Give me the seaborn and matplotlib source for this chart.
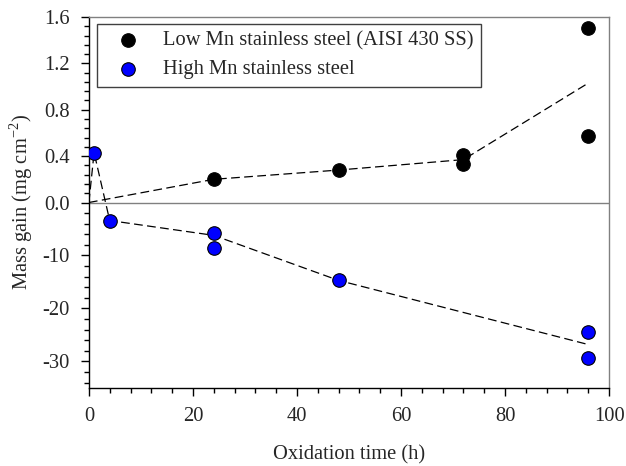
import numpy as np
import pandas as pd
import matplotlib
matplotlib.use("Agg")
import matplotlib.pyplot as plt
import seaborn as sns
from matplotlib.ticker import FixedLocator, FixedFormatter

# ---- data ----
low_x = [24, 48, 72, 72, 96, 96]
low_y = [0.20, 0.28, 0.41, 0.335, 1.505, 0.57]
high_x = [1, 4, 24, 24, 48, 96, 96]
high_y = [0.43, -3.4, -5.8, -8.5, -14.7, -24.4, -29.4]

low_fit_x = [0, 24, 48, 72, 96]
low_fit_y = [0.0, 0.20, 0.28, 0.37, 1.03]
high_fit_x = [0, 1, 4, 24, 48, 96]
high_fit_y = [0.0, 0.43, -3.4, -6.2, -14.7, -26.8]

ytick_vals = [1.6, 1.2, 0.8, 0.4, 0.0, -10, -20, -30]
ytick_labels = ["1.6", "1.2", "0.8", "0.4", "0.0", "-10", "-20", "-30"]
xtick_vals = [0, 20, 40, 60, 80, 100]

label_low = "Low Mn stainless steel (AISI 430 SS)"
label_high = "High Mn stainless steel"

sns.set_style("ticks")
plt.rcParams["font.family"] = ["Liberation Serif", "DejaVu Serif"]
plt.rcParams["mathtext.fontset"] = "custom"
plt.rcParams["mathtext.rm"] = "Liberation Serif"

FS = 14.8

fig = plt.figure(figsize=(6.26, 4.66), dpi=100)
ax = fig.add_axes([0.142, 0.1674, 0.831, 0.7961])

UP, LOW = 1.6, 35.0

def fwd(v):
    v = np.asarray(v, dtype=float)
    return np.where(v >= 0, v / UP, v / LOW)

def inv(v):
    v = np.asarray(v, dtype=float)
    return np.where(v >= 0, v * UP, v * LOW)

ax.axhline(0, color="#808080", lw=1.0, zorder=1)

sns.lineplot(x=low_fit_x, y=low_fit_y, ax=ax, color="black", lw=0.9,
             linestyle=(0, (7, 3.5)), estimator=None, sort=False, zorder=2)
sns.lineplot(x=high_fit_x, y=high_fit_y, ax=ax, color="black", lw=0.9,
             linestyle=(0, (7, 3.5)), estimator=None, sort=False, zorder=2)

sns.scatterplot(x=low_x, y=low_y, ax=ax, color="black", edgecolor="black",
                s=95, linewidth=0.8, zorder=3, label=label_low)
sns.scatterplot(x=high_x, y=high_y, ax=ax, color="#0000FF", edgecolor="black",
                s=95, linewidth=0.8, zorder=3, label=label_high)

ax.set_yscale("function", functions=(fwd, inv))
ax.set_ylim(-35, 1.6)
ax.set_xlim(0, 100)

ax.yaxis.set_major_locator(FixedLocator(ytick_vals))
ax.yaxis.set_major_formatter(FixedFormatter(ytick_labels))
yminor = list(np.round(np.arange(0.08, 1.6, 0.08), 2)) + list(np.arange(-2, -35, -2))
ax.yaxis.set_minor_locator(FixedLocator(yminor))
ax.xaxis.set_major_locator(FixedLocator(xtick_vals))
ax.xaxis.set_minor_locator(FixedLocator(np.arange(0, 101, 4)))

ax.tick_params(axis="both", which="major", direction="out", length=6, width=1,
               labelsize=FS, pad=8, color="black")
ax.tick_params(axis="both", which="minor", direction="out", length=3.5, width=1,
               color="black")

for s in ["left", "bottom"]:
    ax.spines[s].set_color("black")
    ax.spines[s].set_linewidth(1.0)
for s in ["top", "right"]:
    ax.spines[s].set_visible(True)
    ax.spines[s].set_color("#808080")
    ax.spines[s].set_linewidth(1.0)

ax.set_xlabel("Oxidation time (h)", fontsize=FS, labelpad=13.5)
ax.set_ylabel("Mass gain (mg cm$^{-2}$)", fontsize=FS, labelpad=5)

leg = ax.legend(loc="upper left", bbox_to_anchor=(0.0154, 0.981), borderaxespad=0,
                fontsize=FS, frameon=True, fancybox=False, handlelength=2.3,
                handletextpad=0.55, borderpad=0.36, labelspacing=0.45,
                markerscale=1.0)
leg.get_frame().set_edgecolor("#404040")
leg.get_frame().set_linewidth(1.0)
leg.get_frame().set_alpha(1)

fig.savefig("out.png", dpi=100)
